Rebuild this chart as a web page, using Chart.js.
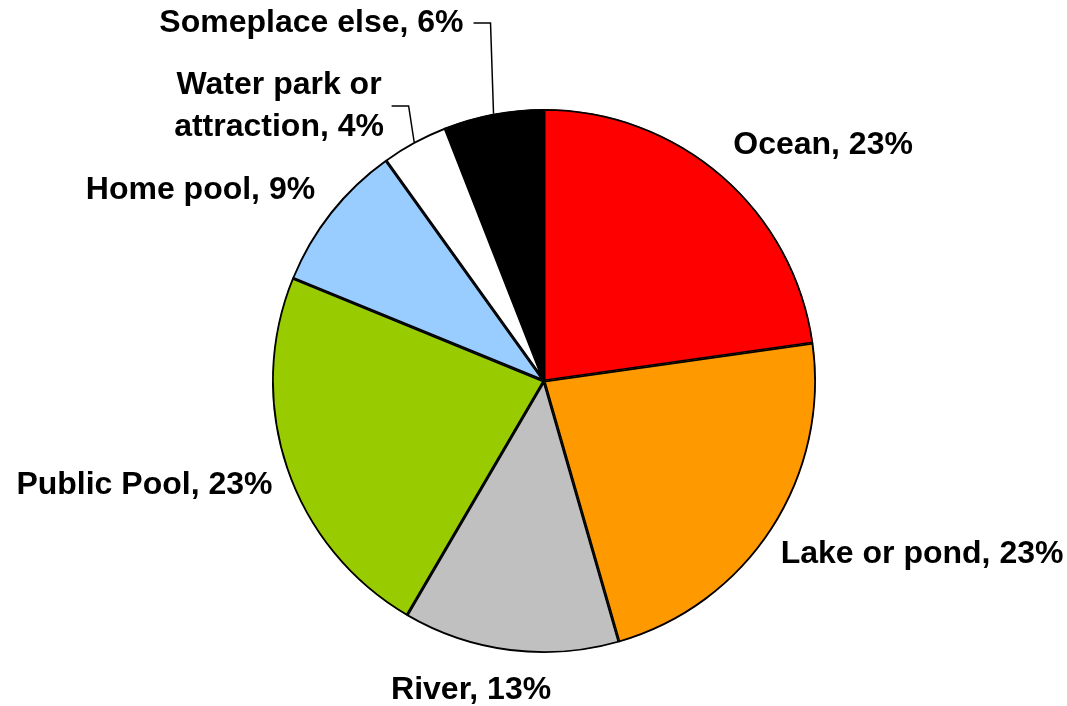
<!DOCTYPE html>
<html>
<head>
<meta charset="utf-8">
<script src="https://cdn.jsdelivr.net/npm/chart.js@4/dist/chart.umd.min.js"></script>
<style>
  html, body { margin: 0; padding: 0; background: #fff; }
  #wrap { width: 1067px; height: 706px; }
</style>
</head>
<body>
<div id="wrap"><canvas id="pie"></canvas></div>
<script>
// Данные диаграммы
const categories = ['Ocean', 'Lake or pond', 'River', 'Public Pool', 'Home pool', 'Water park or\nattraction', 'Someplace else'];
const shares = [23, 23, 13, 23, 9, 4, 6];
const sliceColors = ['#FF0000', '#FF9900', '#C0C0C0', '#99CC00', '#99CCFF', '#FFFFFF', '#000000'];

// Подписи снаружи круга: центр блока текста в долях радиуса от центра, leader — нужна ли выноска
const labelPlacement = [
  { dx: 1.026, dy: -0.868 },
  { dx: 1.39, dy: 0.636 },
  { dx: -0.268, dy: 1.136 },
  { dx: -1.469, dy: 0.382 },
  { dx: -1.263, dy: -0.702 },
  { dx: -0.974, dy: -1.011, leader: true },
  { dx: -0.855, dy: -1.316, leader: true },
];

const outsideLabels = {
  id: 'outsideLabels',
  afterDatasetsDraw(chart, args, options) {
    const { ctx } = chart;
    const meta = chart.getDatasetMeta(0);
    ctx.save();
    ctx.font = options.font;
    ctx.fillStyle = '#000';
    ctx.strokeStyle = '#000';
    ctx.lineWidth = 1.5;
    ctx.textBaseline = 'middle';
    ctx.textAlign = 'center';
    meta.data.forEach((arc, i) => {
      const { x, y, startAngle, endAngle, outerRadius } = arc.getProps(['x', 'y', 'startAngle', 'endAngle', 'outerRadius'], true);
      const pos = options.placement[i];
      const lines = (chart.data.labels[i] + ', ' + chart.data.datasets[0].data[i] + '%').split('\n');
      const cx = x + pos.dx * outerRadius;
      const cy = y + pos.dy * outerRadius;
      const lh = options.lineHeight;
      const top = cy - (lines.length - 1) * lh / 2;
      lines.forEach((line, k) => ctx.fillText(line, cx, top + k * lh));
      if (pos.leader) {
        // выноска: короткий горизонтальный отрезок, затем к середине дуги
        const w = ctx.measureText(lines[0]).width;
        const sx = cx + w / 2 + 10;
        const sy = cy;
        const mid = (startAngle + endAngle) / 2;
        ctx.beginPath();
        ctx.moveTo(sx, sy);
        ctx.lineTo(sx + 17, sy);
        ctx.lineTo(x + Math.cos(mid) * outerRadius, y + Math.sin(mid) * outerRadius);
        ctx.stroke();
      }
    });
    ctx.restore();
  },
};

new Chart(document.getElementById('pie'), {
  type: 'pie',
  data: {
    labels: categories,
    datasets: [{
      data: shares,
      backgroundColor: sliceColors,
      borderColor: '#000000',
      borderWidth: 1.5,
      borderAlign: 'inner',
    }],
  },
  options: {
    responsive: true,
    maintainAspectRatio: false,
    animation: false,
    layout: { padding: { top: 109, bottom: 53, left: 21, right: 0 } },
    plugins: {
      legend: { display: false },
      tooltip: { enabled: false },
      outsideLabels: {
        placement: labelPlacement,
        font: 'bold 32px "Liberation Sans", Arial, sans-serif',
        lineHeight: 42,
      },
    },
  },
  plugins: [outsideLabels],
});
</script>
</body>
</html>
